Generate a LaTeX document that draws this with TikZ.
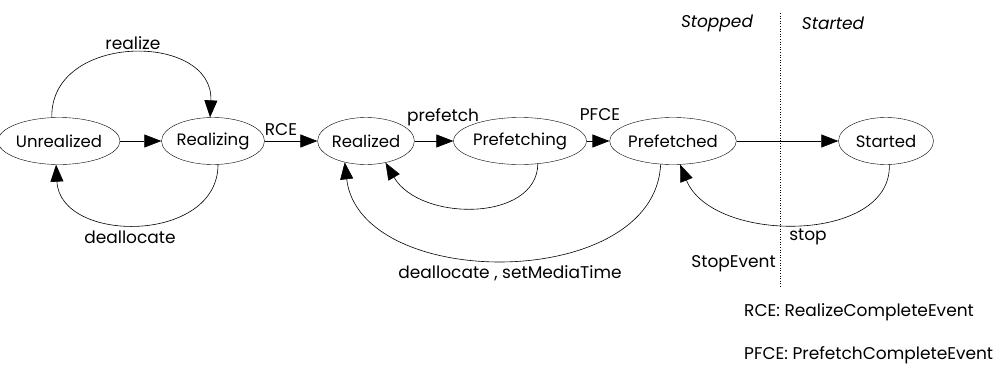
\documentclass[tikz,border=0pt]{standalone}
\usepackage{fontspec}
\setmainfont{Poppins}
\usetikzlibrary{shapes.geometric, arrows.meta}

\begin{document}
\begin{tikzpicture}[
  x=1pt, y=-1pt,
  state/.style={draw, ellipse, minimum width=95pt, minimum height=47pt, inner sep=0pt, font=\fontsize{16.5}{19}\selectfont},
  lbl/.style={font=\fontsize{17}{20}\selectfont, inner sep=1pt},
  trans/.style={-{Triangle[length=17pt, width=13pt]}, line width=0.6pt}
]
  \useasboundingbox (0,0) rectangle (994,370);

  \node[state] (unreal) at (59,141) {Unrealized};
  \node[state] (realizing) at (213,141) {Realizing};
  \node[state] (realized) at (366,141) {Realized};
  \node[state] (prefetching) at (520,141) {Prefetching};
  \node[state] (prefetched) at (673,141) {Prefetched};
  \node[state] (started) at (886,141) {Started};

  % straight transitions
  \draw[trans] (unreal) -- (realizing);
  \draw[trans] (realizing) -- (realized);
  \draw[trans] (realized) -- (prefetching);
  \draw[trans] (prefetching) -- (prefetched);
  \draw[trans] (prefetched) -- (started);

  % curved transitions
  \draw[trans] (unreal.107) .. controls (50,32) and (214,32) .. (realizing.97);
  \draw[trans] (realizing.-78) .. controls (218,244) and (60,244) .. (unreal.-97);
  \draw[trans] (prefetching.-52) .. controls (537,222) and (420,222) .. (realized.-48);
  \draw[trans] (prefetched.-118) .. controls (655,292) and (360,292) .. (realized.-135);
  \draw[trans] (started.-82) .. controls (892,244) and (712,244) .. (prefetched.-73);

  \node[lbl] (lrealize) at (133,43) {realize};
  \node[lbl] (ldealloc) at (130,237) {deallocate};
  \node[lbl] (lrce) at (281,130) {RCE};
  \node[lbl] (lprefetch) at (443,117) {prefetch};
  \node[lbl] (lpfce) at (600,115) {PFCE};
  \node[lbl] (lset) at (510,273) {deallocate , setMediaTime};
  \node[lbl] (lstop) at (808,237) {stop};
  \node[lbl, anchor=east] (lstopev) at (777,264) {StopEvent};

  % stopped / started boundary
  \coordinate (divtop) at (780,13);
  \coordinate (divbot) at (780,288);
  \draw[dotted, line width=0.6pt] (divtop) -- (divbot);
  \node[lbl, font=\fontsize{17}{20}\selectfont\itshape] (stopped) at (717,23) {Stopped};
  \node[lbl, font=\fontsize{17}{20}\selectfont\itshape] (startedlbl) at (833,23) {Started};

  % legend
  \node[lbl, anchor=west] (leg1) at (743,312) {RCE: RealizeCompleteEvent};
  \node[lbl, anchor=west] (leg2) at (743,355) {PFCE: PrefetchCompleteEvent};
\end{tikzpicture}
\end{document}
